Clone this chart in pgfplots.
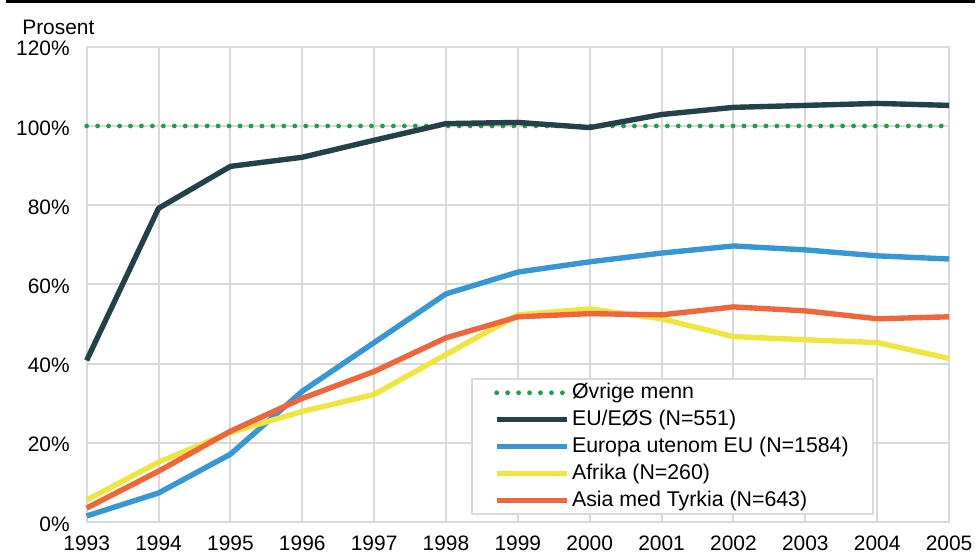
\documentclass[border=0pt]{standalone}
\usepackage{fontspec}
\setmainfont{Liberation Sans}
\usepackage{pgfplots}
\pgfplotsset{compat=1.18}

\definecolor{gridgray}{HTML}{D9D9D9}
\definecolor{cEU}{HTML}{24414A}
\definecolor{cEuropa}{HTML}{3796D4}
\definecolor{cAfrika}{HTML}{EEE53F}
\definecolor{cAsia}{HTML}{F0663A}
\definecolor{cOvrige}{HTML}{1BA04A}

\begin{document}
\begin{tikzpicture}
% page frame (1 px = 0.5pt), origin at lower-left of plot area
\path (-43.5pt,-14pt) rectangle (446pt,262pt);
\fill[black] (-40.5pt,260.4pt) rectangle (446pt,262pt);
\node[anchor=west, inner sep=0pt, font=\fontsize{10.5}{12}\selectfont] at (-32.5pt,248pt) {Prosent};

\begin{axis}[
    at={(0,0)}, anchor=south west,
    scale only axis, width=433pt, height=238.5pt,
    xmin=1993, xmax=2005, ymin=0, ymax=120,
    xtick={1993,...,2005}, ytick={0,20,...,120},
    grid=major, grid style={draw=gridgray, line width=1pt},
    axis line style={draw=gridgray, line width=1pt},
    major tick length=0pt,
    tick label style={font=\fontsize{10.5}{12}\selectfont},
    /pgf/number format/assume math mode=true,
    xticklabel style={/pgf/number format/1000 sep={}, yshift=-3.5pt},
    yticklabel style={xshift=-5pt, yshift=-1pt},
    yticklabel={\pgfmathprintnumber{\tick}\%},
    clip=false,
    legend cell align=left,
    legend image code/.code={\draw[#1] (0pt,0pt) -- (35.5pt,0pt);},
    legend style={at={(0.4457,0.014)}, anchor=south west,
        draw=gridgray, line width=1pt,
        font=\fontsize{10.7}{12}\selectfont,
        inner xsep=11pt, inner ysep=0pt, row sep=0pt,
        nodes={inner xsep=1pt, inner ysep=2.15pt},
        /tikz/every even column/.append style={column sep=0pt}},
    every axis plot/.append style={line width=2.7pt, line cap=butt, line join=round},
]
\addplot[cOvrige, line width=2.4pt, line cap=round, dash pattern=on 0pt off 5.5pt] coordinates {
    (1993,100) (2005,100)
};
\addlegendentry{Øvrige menn}
\addplot[cEU] coordinates {
    (1993,40.8) (1994,79.2) (1995,89.8) (1996,92.1) (1997,96.4) (1998,100.6)
    (1999,100.9) (2000,99.6) (2001,102.9) (2002,104.7) (2003,105.2) (2004,105.7) (2005,105.2)
};
\addlegendentry{EU/EØS (N=551)}
\addplot[cEuropa] coordinates {
    (1993,1.5) (1994,7.3) (1995,17.1) (1996,33.0) (1997,45.3) (1998,57.6)
    (1999,63.1) (2000,65.7) (2001,67.9) (2002,69.7) (2003,68.7) (2004,67.2) (2005,66.4)
};
\addlegendentry{Europa utenom EU (N=1584)}
\addplot[cAfrika] coordinates {
    (1993,5.5) (1994,15.1) (1995,22.6) (1996,27.9) (1997,32.2) (1998,42.3)
    (1999,52.3) (2000,53.8) (2001,51.3) (2002,46.8) (2003,46.0) (2004,45.3) (2005,41.3)
};
\addlegendentry{Afrika (N=260)}
\addplot[cAsia] coordinates {
    (1993,3.5) (1994,12.8) (1995,22.9) (1996,31.2) (1997,38.0) (1998,46.5)
    (1999,51.8) (2000,52.6) (2001,52.3) (2002,54.3) (2003,53.3) (2004,51.3) (2005,51.8)
};
\addlegendentry{Asia med Tyrkia (N=643)}
\end{axis}
\end{tikzpicture}
\end{document}
